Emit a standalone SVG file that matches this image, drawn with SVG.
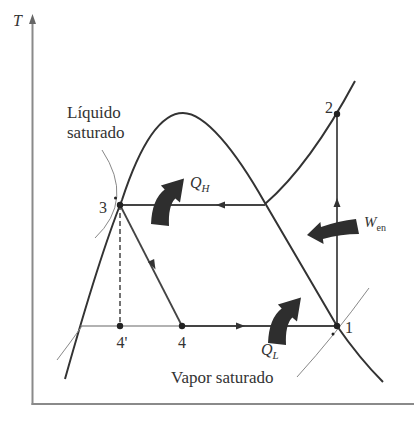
<svg xmlns="http://www.w3.org/2000/svg" width="414" height="422" viewBox="0 0 414 422">
<style>
.axis{stroke:#8a8a8a;stroke-width:2;fill:none}
.curve{stroke:#333;stroke-width:2;fill:none}
.thin{stroke:#888;stroke-width:1;fill:none}
.cyc{stroke:#444;stroke-width:1.8;fill:none}
.cycthin{stroke:#666;stroke-width:1.2;fill:none}
.dash{stroke:#444;stroke-width:1.5;stroke-dasharray:5 3;fill:none}
.dot{fill:#222}
.tri{fill:#333}
.big{fill:#2e2e2e}
text{font-family:"Liberation Serif","Times New Roman",serif;fill:#333}
.lbl{font-size:17px}
.num{font-size:16px}
.it{font-style:italic}
</style>
<defs>
<path id="heatArrow" d="M151,224 Q152,199 164.7,189.4 L160.9,185.6 L184,178.5 L180,202.4 L175.3,198.6 Q168,206 169,226 Z"/>
</defs>
<g id="axes">
<line class="axis" x1="32.5" y1="405" x2="32.5" y2="22"/>
<polygon points="32.5,14 29,24 36,24" fill="#666"/>
<line class="axis" x1="31.5" y1="404" x2="414" y2="404"/>
<text class="it" x="13" y="26" font-size="16">T</text>
</g>
<g id="dome">
<path class="curve" d="M65,379 C90,290 110,230 122,200 C140,145 160,113 183,113 C205,113 235,150 265,203 L337,326 C355,352 368,367 383,382"/>
<path class="curve" d="M265,204 Q310,165 355,81"/>
</g>
<g id="connectors">
<line class="cyc" x1="337" y1="326" x2="337" y2="114"/>
<polygon class="tri" points="337,198 333.5,207 340.5,207"/>
<line class="cyc" x1="265" y1="205" x2="120" y2="205"/>
<polygon class="tri" points="216,205 225,201.5 225,208.5"/>
<line class="cyc" x1="120" y1="205" x2="182" y2="326"/>
<polygon class="tri" points="155.5,269.5 147.9,262.1 154.1,258.9"/>
<line class="dash" x1="120" y1="205" x2="120" y2="326"/>
<line class="cycthin" x1="80" y1="326" x2="182" y2="326"/>
<line class="cyc" x1="182" y1="326" x2="337" y2="326"/>
<polygon class="tri" points="245,326 236,322.5 236,329.5"/>
</g>
<g id="leaders">
<path class="thin" d="M102,150 Q135,200 95,238"/>
<circle class="dot" cx="115.5" cy="198" r="1.5"/>
<path class="thin" d="M57,360 Q70,343 82,326"/>
<path class="thin" d="M297,377 Q335,335 369,288"/>
<circle class="dot" cx="333" cy="334" r="1.5"/>
</g>
<g id="p1">
<circle class="dot" cx="337" cy="326" r="3.2"/>
<text class="num" x="345" y="333">1</text>
</g>
<g id="p2">
<circle class="dot" cx="337" cy="114" r="3.2"/>
<text class="num" x="325" y="113">2</text>
</g>
<g id="p3">
<circle class="dot" cx="120" cy="205" r="3.2"/>
<text class="num" x="99" y="213">3</text>
</g>
<g id="p4prime">
<circle class="dot" cx="120" cy="326" r="3.2"/>
<text class="num" x="122" y="348" text-anchor="middle">4'</text>
</g>
<g id="p4">
<circle class="dot" cx="182" cy="326" r="3.2"/>
<text class="num" x="182" y="348" text-anchor="middle">4</text>
</g>
<g id="liquid-label">
<text class="lbl" x="67" y="118">Líquido</text>
<text class="lbl" x="67" y="138">saturado</text>
</g>
<g id="vapor-label">
<text class="lbl" x="171" y="383">Vapor saturado</text>
</g>
<g id="QH">
<use href="#heatArrow" class="big"/>
<text class="it" x="190" y="188" font-size="16">Q<tspan font-size="11" dy="4">H</tspan></text>
</g>
<g id="QL">
<use href="#heatArrow" class="big" transform="translate(117,119)"/>
<text class="it" x="261" y="355" font-size="16">Q<tspan font-size="11" dy="4">L</tspan></text>
</g>
<g id="Wen">
<path class="big" d="M356,219 Q338,221 321,227 L320.4,222 L307,235 L323.6,244 L322.9,239 Q341,234 359,234 Z"/>
<text class="it" x="364" y="227" font-size="15">W<tspan font-size="10" dy="4" font-style="normal">en</tspan></text>
</g>
</svg>
